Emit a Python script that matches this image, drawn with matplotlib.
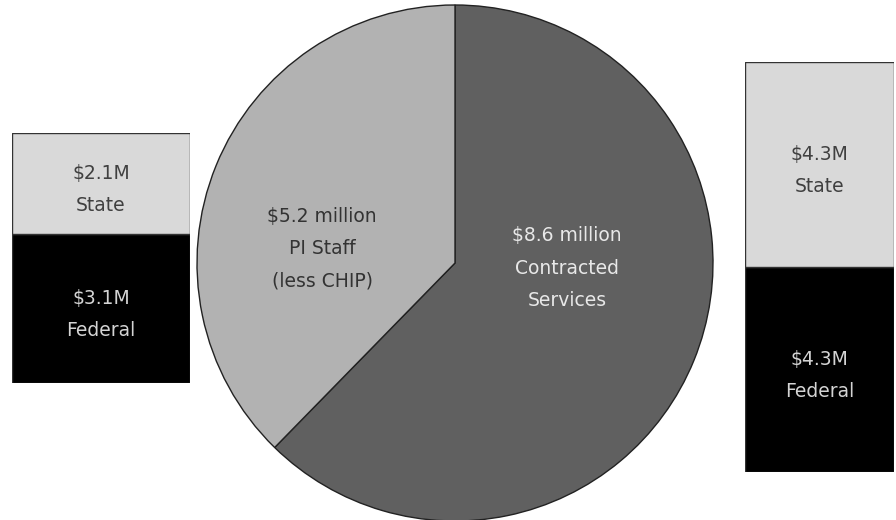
import matplotlib.pyplot as plt

# funding split of each spending category (millions of dollars)
pie_values = [8.6, 5.2]
pie_labels = ["$8.6 million\nContracted\nServices", "$5.2 million\nPI Staff\n(less CHIP)"]

staff_state = 2.1
staff_federal = 3.1

contract_state = 4.3
contract_federal = 4.3

W, H = 896, 520
fig = plt.figure(figsize=(W / 100, H / 100), dpi=100)
plt.rcParams["font.family"] = ["DejaVu Sans"]

DARK = "#606060"
LIGHT = "#b2b2b2"
BAR_LIGHT = "#d9d9d9"
EDGE = "#333333"
FS = 13.5
LS = 1.9


def px_axes(x0, y0, x1, y1):
    # axes placed by pixel box (top-left origin)
    return fig.add_axes([x0 / W, (H - y1) / H, (x1 - x0) / W, (y1 - y0) / H])


def stacked_bar(ax, state, federal):
    ax.bar(0, federal, width=1, color="black", edgecolor=EDGE, linewidth=1)
    ax.bar(0, state, bottom=federal, width=1, color=BAR_LIGHT, edgecolor=EDGE, linewidth=1)
    ax.set_xlim(-0.5, 0.5)
    ax.set_ylim(0, state + federal)
    ax.axis("off")
    ax.text(0, federal / 2 - 0.13, f"${federal:.1f}M\nFederal", ha="center", va="center",
            color="#d4d4d4", fontsize=FS, linespacing=LS)
    ax.text(0, federal + state / 2 - 0.13, f"${state:.1f}M\nState", ha="center", va="center",
            color="#404040", fontsize=FS, linespacing=LS)


ax_left = px_axes(12, 133, 190, 383)
stacked_bar(ax_left, staff_state, staff_federal)

ax_right = px_axes(745, 62, 894, 472)
stacked_bar(ax_right, contract_state, contract_federal)

ax_pie = px_axes(455 - 258, 263 - 258, 455 + 258, 263 + 258)
ax_pie.pie(pie_values, colors=[DARK, LIGHT], startangle=90, counterclock=False,
           wedgeprops=dict(edgecolor="#222222", linewidth=1))
ax_pie.set_xlim(-1, 1)
ax_pie.set_ylim(-1, 1)
ax_pie.set_aspect("equal")
ax_pie.text(0.434, -0.02, pie_labels[0], ha="center", va="center", color="#e8e8e8",
            fontsize=FS, linespacing=LS)
ax_pie.text(-0.515, 0.055, pie_labels[1], ha="center", va="center", color="#333333",
            fontsize=FS, linespacing=LS)

fig.savefig("out.png", dpi=100, facecolor="white")
